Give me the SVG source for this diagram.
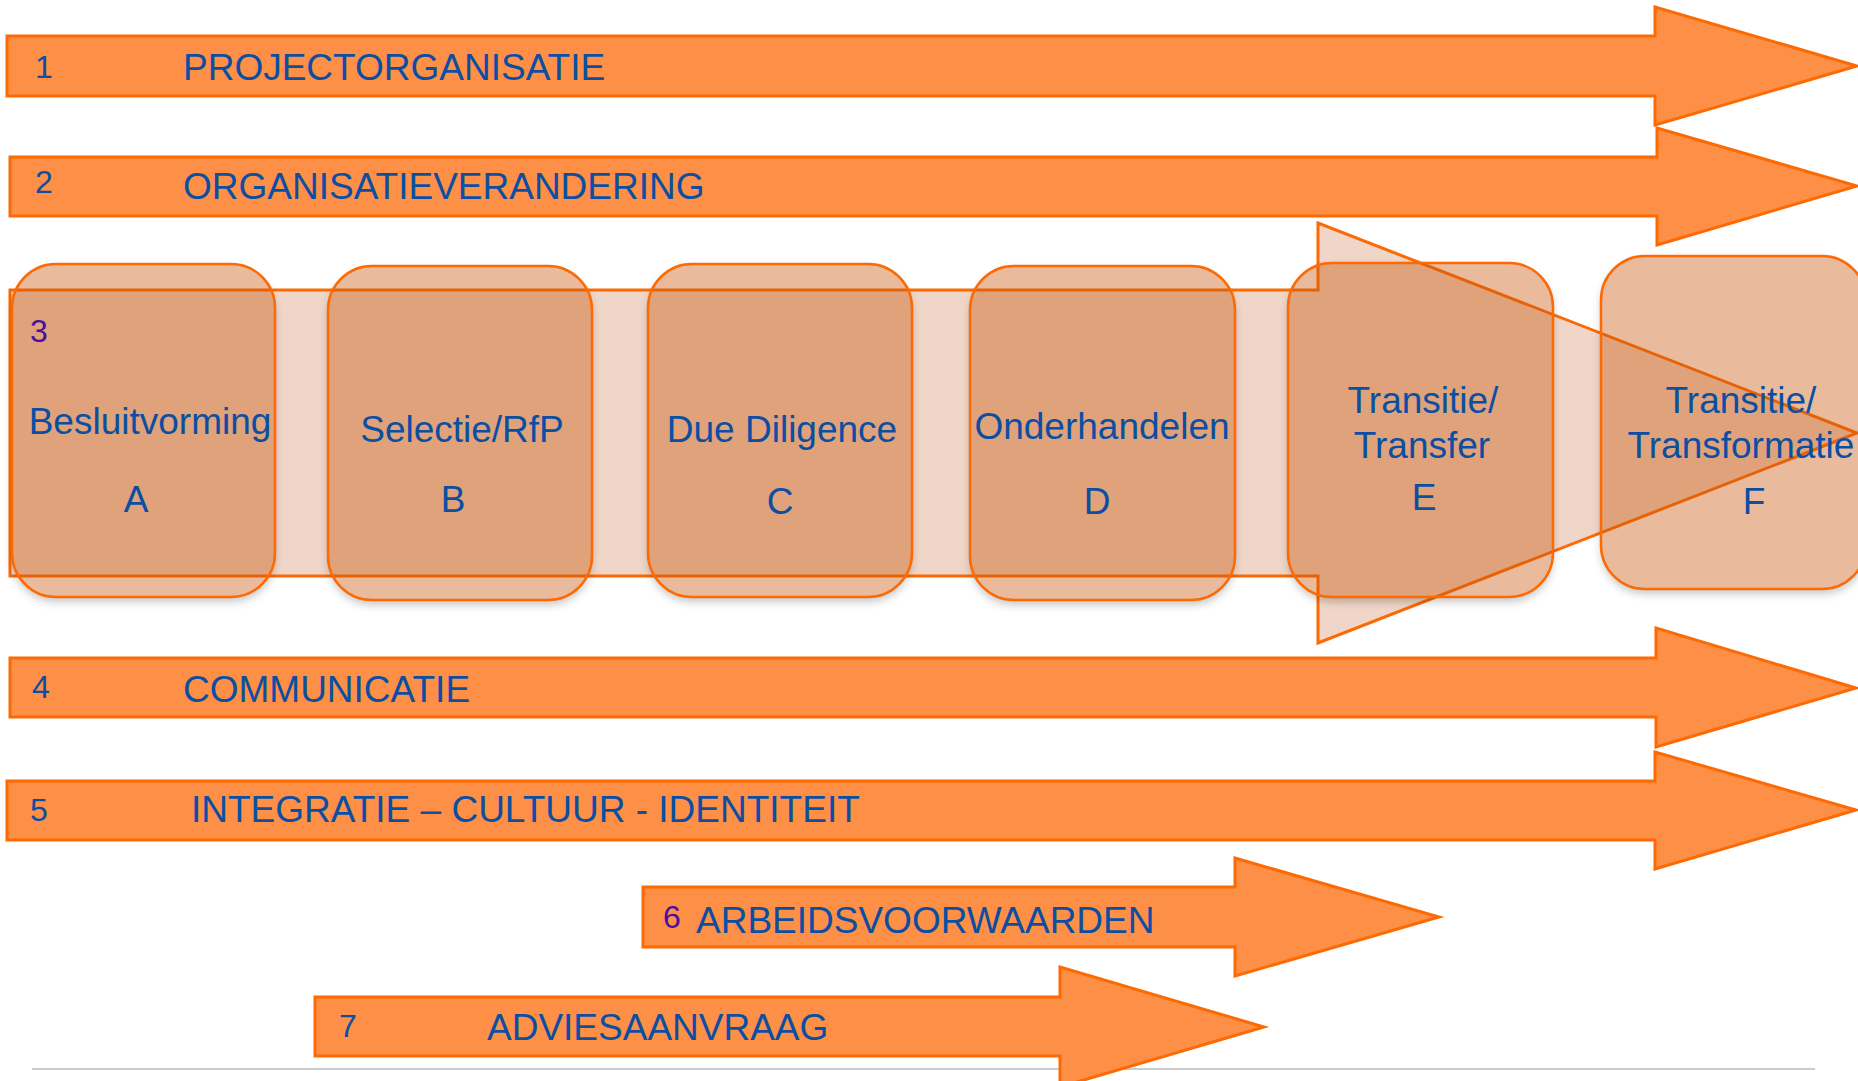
<svg xmlns="http://www.w3.org/2000/svg" width="1858" height="1081" viewBox="0 0 1858 1081">
  <defs>
    <!-- shadow that only shows outside the casting shape -->
    <filter id="shadow-only" x="-10%" y="-10%" width="120%" height="125%">
      <feGaussianBlur in="SourceAlpha" stdDeviation="4" result="blur"/>
      <feOffset in="blur" dy="5" result="off"/>
      <feFlood flood-color="#000" flood-opacity="0.22"/>
      <feComposite in2="off" operator="in" result="shade"/>
      <feComposite in="shade" in2="SourceAlpha" operator="out"/>
    </filter>
  </defs>
  <style>
    .arrow { fill: #fe8f47; stroke: #fd6a03; stroke-width: 3; stroke-linejoin: miter; }
    .band { fill: #efd6c8; stroke: #fd6a03; stroke-width: 3; }
    .phase { fill: #c85507; fill-opacity: 0.4; stroke: #fd6a03; stroke-width: 2.5; }
    .shade { fill: #000; filter: url(#shadow-only); }
    .title { font-family: "Liberation Sans", Arial, sans-serif; font-size: 37px; fill: #0b4ea2; }
    .num { font-family: "Liberation Sans", Arial, sans-serif; font-size: 32px; fill: #0b4ea2; }
    .num-alt { fill: #4a0f9c; }
    .lbl { font-family: "Liberation Sans", Arial, sans-serif; font-size: 37px; fill: #0b4ea2; text-anchor: middle; }
    .rule { stroke: #cccccc; stroke-width: 2; }
  </style>

  <!-- horizontal rule at the bottom -->
  <line class="rule" x1="32" y1="1069" x2="1815" y2="1069"/>

  <!-- 3: phase band (wide arrow behind the phase boxes) -->
  <g id="band-3">
    <path class="band" d="M10,290 H1318 V223 L1857,433 L1318,643 V576 H10 Z"/>
  </g>

  <!-- phase boxes -->
  <g id="phase-a">
    <rect class="shade" x="12" y="264" width="263" height="333" rx="44"/>
    <rect class="phase" x="12" y="264" width="263" height="333" rx="44"/>
    <text class="lbl" x="150" y="434">Besluitvorming</text>
    <text class="lbl" x="136" y="512">A</text>
  </g>
  <g id="phase-b">
    <rect class="shade" x="328" y="266" width="264" height="334" rx="44"/>
    <rect class="phase" x="328" y="266" width="264" height="334" rx="44"/>
    <text class="lbl" x="462" y="442">Selectie/RfP</text>
    <text class="lbl" x="453" y="512">B</text>
  </g>
  <g id="phase-c">
    <rect class="shade" x="648" y="264" width="264" height="333" rx="44"/>
    <rect class="phase" x="648" y="264" width="264" height="333" rx="44"/>
    <text class="lbl" x="782" y="442">Due Diligence</text>
    <text class="lbl" x="780" y="514">C</text>
  </g>
  <g id="phase-d">
    <rect class="shade" x="970" y="266" width="265" height="334" rx="44"/>
    <rect class="phase" x="970" y="266" width="265" height="334" rx="44"/>
    <text class="lbl" x="1102" y="439">Onderhandelen</text>
    <text class="lbl" x="1097" y="514">D</text>
  </g>
  <g id="phase-e">
    <rect class="shade" x="1288" y="263" width="265" height="334" rx="44"/>
    <rect class="phase" x="1288" y="263" width="265" height="334" rx="44"/>
    <text class="lbl" x="1423" y="413">Transitie/</text>
    <text class="lbl" x="1422" y="458">Transfer</text>
    <text class="lbl" x="1424" y="510">E</text>
  </g>
  <g id="phase-f">
    <rect class="shade" x="1601" y="256" width="265" height="333" rx="44"/>
    <rect class="phase" x="1601" y="256" width="265" height="333" rx="44"/>
    <text class="lbl" x="1741" y="413">Transitie/</text>
    <text class="lbl" x="1741" y="458">Transformatie</text>
    <text class="lbl" x="1754" y="514">F</text>
  </g>

  <!-- band number, kept above the boxes -->
  <g id="band-3-label">
    <text class="num num-alt" x="30" y="342">3</text>
  </g>

  <!-- workstream arrows -->
  <g id="connectors">
    <g id="stream-1">
      <path class="arrow" d="M7,36 H1655 V7 L1857,66 L1655,125 V96 H7 Z"/>
      <text class="num" x="35" y="78">1</text>
      <text class="title" x="183" y="80">PROJECTORGANISATIE</text>
    </g>
    <g id="stream-2">
      <path class="arrow" d="M10,157 H1657 V128 L1857,186 L1657,245 V216 H10 Z"/>
      <text class="num" x="35" y="193">2</text>
      <text class="title" x="183" y="199">ORGANISATIEVERANDERING</text>
    </g>
    <g id="stream-4">
      <path class="arrow" d="M10,658 H1656 V628 L1856,688 L1656,747 V717 H10 Z"/>
      <text class="num" x="32" y="698">4</text>
      <text class="title" x="183" y="702">COMMUNICATIE</text>
    </g>
    <g id="stream-5">
      <path class="arrow" d="M7,781 H1655 V752 L1856,810 L1655,869 V840 H7 Z"/>
      <text class="num" x="30" y="821">5</text>
      <text class="title" x="191" y="822">INTEGRATIE – CULTUUR - IDENTITEIT</text>
    </g>
    <g id="stream-6">
      <path class="arrow" d="M643,887 H1235 V858 L1439,917 L1235,976 V947 H643 Z"/>
      <text class="num num-alt" x="663" y="928">6</text>
      <text class="title" x="696" y="933">ARBEIDSVOORWAARDEN</text>
    </g>
    <g id="stream-7">
      <path class="arrow" d="M315,997 H1060 V967 L1264,1027 L1060,1087 V1056 H315 Z"/>
      <text class="num" x="339" y="1037">7</text>
      <text class="title" x="487" y="1040">ADVIESAANVRAAG</text>
    </g>
  </g>
</svg>
